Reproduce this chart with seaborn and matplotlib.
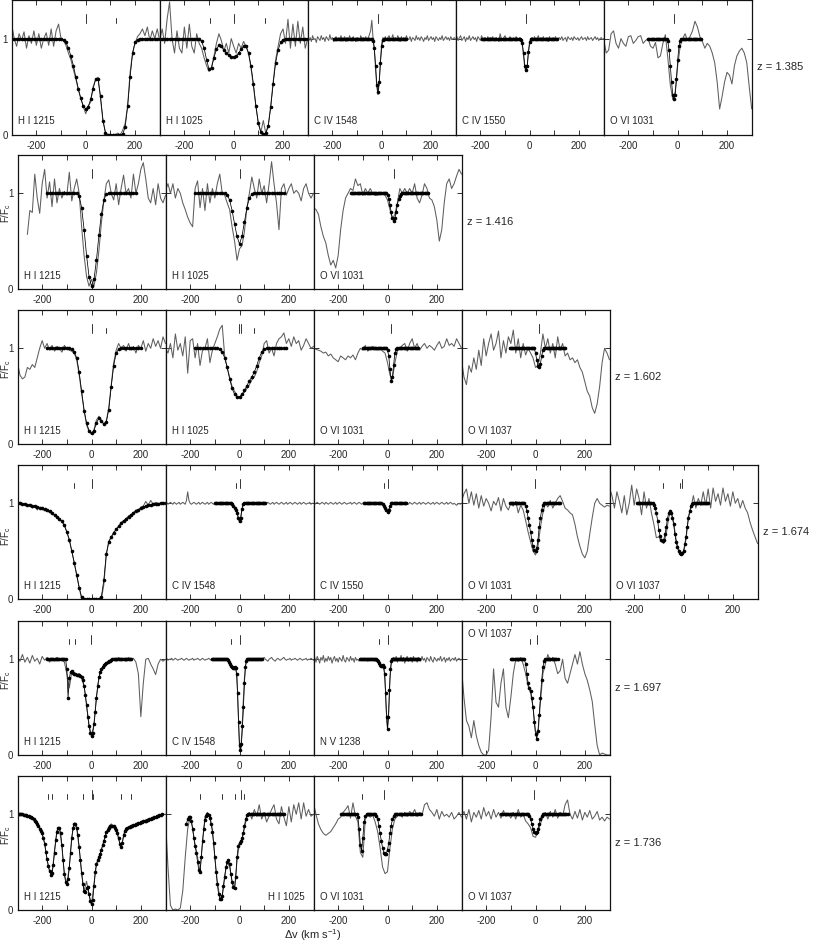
import numpy as np
import pandas as pd
import matplotlib
matplotlib.use("Agg")
import matplotlib.pyplot as plt
import seaborn as sns

sns.set_style("ticks")
plt.rcParams["font.family"] = ["Liberation Sans", "DejaVu Sans"]
plt.rcParams["mathtext.fontset"] = "custom"
plt.rcParams["mathtext.rm"] = "Liberation Sans"
plt.rcParams["mathtext.it"] = "Liberation Sans:italic"
plt.rcParams["mathtext.default"] = "regular"
plt.rcParams["axes.unicode_minus"] = False

# ---------------------------------------------------------------- data
redshifts = ["1.385", "1.416", "1.602", "1.674", "1.697", "1.736"]
row_ions = [
    ["H I 1215", "H I 1025", "C IV 1548", "C IV 1550", "O VI 1031"],
    ["H I 1215", "H I 1025", "O VI 1031"],
    ["H I 1215", "H I 1025", "O VI 1031", "O VI 1037"],
    ["H I 1215", "C IV 1548", "C IV 1550", "O VI 1031", "O VI 1037"],
    ["H I 1215", "C IV 1548", "N V 1238", "O VI 1037"],
    ["H I 1215", "H I 1025", "O VI 1031", "O VI 1037"],
]
xtick_major = [-200, 0, 200]
xtick_minor = [-100, 100]
ytick_vals = [0, 1]

# ---- z = 1.385
r1_hi1215_flux = [1.15,1.0,0.92,1.05,0.98,1.07,0.9,1.03,0.95,1.08,0.93,1.05,0.9,1.0,1.06,0.93,1.1,0.92,1.08,1.15,1.0,0.98,0.93,0.85,0.78,0.68,0.58,0.47,0.38,0.3,0.22,0.3,0.34,0.5,0.57,0.6,0.38,0.15,0.03,0.0,0.01,0.0,0.0,0.02,0.0,0.05,0.12,0.3,0.65,0.85,0.95,1.02,1.05,1.1,1.03,1.12,0.98,1.08,1.0,1.1,0.98]
r1_hi1215_fit = [1.0]*21 + [0.99,0.96,0.9,0.82,0.72,0.6,0.48,0.38,0.3,0.27,0.29,0.37,0.48,0.58,0.58,0.4,0.15,0.02,0.0,0.0,0.0,0.0,0.0,0.0,0.01,0.08,0.3,0.6,0.85,0.96,0.99] + [1.0]*9
r1_hi1025_flux = [0.98,1.1,0.95,1.2,1.38,1.0,0.85,1.08,0.9,0.85,1.12,0.9,1.15,0.92,0.85,1.05,0.95,0.9,0.8,0.72,0.66,0.7,0.82,0.95,1.05,0.98,0.87,0.95,0.85,1.0,0.92,0.85,0.95,0.9,0.97,0.92,0.85,0.7,0.5,0.3,0.12,0.03,0.15,0.02,0.1,0.3,0.55,0.78,0.92,1.05,1.1,0.95,1.2,0.9,1.15,0.92,1.18,0.95,1.12,0.9,1.0]
r1_hi1025_fit = [1.0]*17 + [0.97,0.9,0.78,0.68,0.7,0.8,0.89,0.93,0.92,0.88,0.85,0.83,0.81,0.81,0.82,0.85,0.89,0.92,0.92,0.85,0.72,0.53,0.3,0.12,0.03,0.01,0.02,0.09,0.29,0.53,0.75,0.88,0.96,0.99] + [1.0]*10
r1_civ1548_flux = [1.02,0.98,1.01,0.97,1.03,0.99,1.0,0.96,1.02,1.0,0.98,1.03,0.99,1.01,0.97,1.02,1.0,0.98,1.04,0.99,1.01,0.97,1.0,1.02,0.98,1.01,0.99,1.03,0.98,1.0,1.02,0.97,1.01,0.99,1.03,0.98,1.0,1.02,0.99,0.97,1.01,1.0,0.98,1.03,0.99,1.01,0.98,1.02,0.99,1.0,1.04,1.08,
                   1.19,1.0,0.9,0.7,0.5,0.42,0.55,0.78,0.95,1.01,
                   0.99,1.02,0.98,1.01,1.03,0.99,1.0,1.04,0.98,1.01,0.99,1.03,1.0,0.97,1.02,0.99,1.01,0.98,1.03,1.0,0.99,1.02,0.97,1.01,1.0,0.98,1.03,0.99,1.01,0.98,1.02,1.0,0.97,1.01,0.99,1.03,0.98,1.0,1.02,0.99,1.01,0.97,1.02,1.0,0.98,1.01,0.99,1.03,0.98,1.0,1.02,0.99,1.01,0.98,1.02,0.99,1.0,1.01,0.99]
r1_civ1548_fit = [1.0]*32 + [0.98,0.9,0.72,0.52,0.45,0.55,0.75,0.92,0.99] + [1.0]*19
r1_civ1550_flux = [0.99,1.02,0.98,1.01,1.03,0.98,1.0,1.02,0.97,1.01,0.99,1.03,0.98,1.0,1.02,0.99,1.01,0.97,1.02,1.0,0.98,1.03,0.99,1.0,1.01,0.98,1.02,0.99,1.01,1.0,1.02,0.98,1.0,1.01,0.99,0.97,1.05,1.0,0.98,1.01,1.03,0.99,1.0,0.98,1.02,1.0,0.99,1.01,0.98,1.02,1.0,0.99,1.01,
                   0.99,0.93,0.82,0.7,0.66,0.72,0.87,0.97,1.0,
                   1.01,0.99,1.02,0.98,1.0,1.03,0.99,1.01,0.98,1.02,1.0,0.99,1.01,0.97,1.02,1.0,0.98,1.01,0.99,1.02,0.98,1.0,1.01,0.99,1.02,0.98,1.0,1.01,0.97,1.02,1.0,0.99,1.01,0.98,1.02,1.0,0.99,1.01,0.98,1.0,1.02,0.99,1.0,1.01,0.98,1.02,0.99,1.0,1.01,0.98,1.0,1.02,0.99,1.01,0.98,1.0,1.01,0.99,1.0]
r1_civ1550_fit = [1.0]*32 + [0.99,0.95,0.85,0.72,0.67,0.72,0.86,0.96,1.0] + [1.0]*21
r1_ovi1031_flux = [1.0,0.85,0.88,1.05,1.08,0.95,0.9,1.0,0.95,0.92,1.02,1.03,0.95,0.98,1.02,1.03,0.95,0.98,1.0,0.92,0.9,0.96,0.8,0.82,0.95,1.04,0.8,0.52,0.37,0.45,0.72,0.92,1.0,1.05,0.98,1.02,1.08,1.18,1.12,1.02,0.97,0.9,0.95,0.92,0.85,0.75,0.55,0.27,0.4,0.55,0.65,0.62,0.53,0.72,0.82,0.87,0.9,0.85,0.75,0.5,0.27]
r1_ovi1031_fit = [1.0]*16 + [0.97,0.88,0.72,0.55,0.42,0.37,0.42,0.58,0.78,0.92,0.98,1.0] + [1.0]*16

# ---- z = 1.416
r2_hi1215_flux = [0.57,0.82,0.8,1.2,0.95,0.79,1.1,1.25,0.95,1.12,0.86,1.15,0.9,1.05,0.95,1.02,0.98,1.22,0.92,1.05,1.15,1.0,0.65,0.35,0.13,0.03,0.1,0.03,0.17,0.4,0.69,0.92,1.1,1.14,1.0,0.93,1.1,0.88,1.05,1.19,1.0,1.05,0.95,1.2,1.0,1.1,1.25,1.32,1.15,0.95,0.9,1.05,0.88,1.1,0.95,0.9,0.98]
r2_hi1215_fit = [1.0]*13 + [0.97,0.85,0.62,0.35,0.13,0.03,0.1,0.3,0.56,0.78,0.93,0.99] + [1.0]*12
r2_hi1025_flux = [1.03,1.1,1.0,1.1,0.95,1.05,1.0,0.9,0.83,0.75,0.69,0.65,1.05,1.13,0.85,1.05,0.82,1.1,0.9,1.05,0.95,1.1,1.2,1.0,0.98,0.9,0.83,0.65,0.5,0.3,0.42,0.45,0.6,0.85,1.0,1.17,1.05,0.95,1.15,1.0,1.08,0.9,1.1,1.33,1.1,0.9,0.62,1.05,1.1,0.98,1.05,1.1,1.0,1.03,1.0,0.92,1.05,1.1,1.0,0.95,1.0]
r2_hi1025_fit = [1.0]*13 + [0.98,0.93,0.82,0.68,0.55,0.47,0.55,0.7,0.85,0.95,0.99] + [1.0]*13
r2_ovi1031_flux = [0.85,0.83,0.78,0.65,0.55,0.48,0.35,0.25,0.3,0.22,0.35,0.62,0.82,0.95,1.0,1.05,1.03,1.15,1.08,1.1,0.98,1.05,1.0,1.05,1.0,0.98,0.98,1.0,1.0,0.98,0.93,0.83,0.73,0.78,0.9,1.05,1.0,1.05,1.0,1.05,1.0,1.1,0.95,0.9,0.98,1.1,1.05,0.95,0.93,0.86,0.72,0.5,0.62,0.9,1.1,1.15,1.05,1.1,1.18,1.25,1.2]
r2_ovi1031_fit = [1.0]*30 + [0.98,0.94,0.88,0.8,0.74,0.71,0.74,0.8,0.88,0.94,0.97,0.99] + [1.0]*22

# ---- z = 1.602
r3_hi1215_flux = [0.85,0.72,0.68,0.7,0.8,0.78,0.83,0.8,0.9,1.0,1.08,1.0,1.05,0.98,1.03,0.97,1.02,1.0,0.96,1.03,1.0,0.98,0.97,0.95,0.88,0.72,0.53,0.35,0.2,0.13,0.1,0.15,0.25,0.29,0.25,0.2,0.24,0.38,0.62,0.85,0.98,1.05,1.0,1.03,0.97,1.05,0.98,1.02,0.95,1.03,1.0,1.08,0.97,1.05,1.0,1.1,1.02,1.08,1.0,1.12,1.05]
r3_hi1215_fit = [1.0]*10 + [0.99,0.96,0.9,0.75,0.55,0.35,0.22,0.14,0.11,0.14,0.22,0.27,0.24,0.21,0.23,0.36,0.6,0.82,0.95,0.99] + [1.0]*9
r3_hi1025_flux = [1.0,0.95,1.05,0.9,1.15,0.98,1.05,0.92,1.12,0.74,1.08,1.1,0.9,1.05,0.82,0.98,1.0,1.1,0.85,0.98,1.05,1.12,1.2,1.24,0.92,0.8,0.7,0.6,0.55,0.5,0.48,0.52,0.54,0.58,0.62,0.67,0.7,0.76,0.85,0.92,1.05,1.08,0.95,1.0,0.92,1.05,1.1,1.12,1.16,1.05,1.1,1.02,1.12,1.05,1.08,0.98,1.03,1.1,1.05,1.0,1.02]
r3_hi1025_fit = [1.0]*10 + [0.99,0.96,0.9,0.8,0.68,0.58,0.52,0.49,0.49,0.52,0.56,0.61,0.66,0.7,0.75,0.82,0.9,0.96,0.99] + [1.0]*9
r3_ovi1031_flux = [1.0,0.99,0.98,0.97,0.95,0.96,0.92,0.94,0.9,0.88,0.86,0.92,0.9,0.88,0.92,0.9,0.93,0.88,0.95,1.0,0.98,1.03,0.97,1.0,1.02,0.99,0.98,1.0,0.97,0.95,0.85,0.72,0.68,0.85,0.97,1.0,1.03,1.05,0.97,1.05,1.1,1.0,1.05,0.98,1.02,1.05,1.0,1.03,1.01,0.98,1.03,1.07,1.0,1.02,1.1,1.03,1.05,1.02,1.1,1.05,1.0]
r3_ovi1031_fit = [1.0]*20 + [0.98,0.92,0.78,0.66,0.7,0.83,0.95,0.99] + [1.0]*18
r3_ovi1037_flux = [0.88,0.7,0.62,0.82,0.75,0.9,0.78,0.98,0.82,1.1,0.92,1.05,1.15,0.98,1.05,1.18,0.9,1.08,0.95,1.12,1.05,1.19,0.95,1.1,0.9,1.05,0.93,1.0,0.95,0.9,0.8,0.82,0.95,1.15,1.0,1.1,0.95,1.05,0.9,1.12,0.98,1.05,0.92,0.95,0.88,0.9,0.85,0.88,0.8,0.75,0.65,0.55,0.5,0.38,0.32,0.42,0.6,0.85,1.0,0.95,0.88]
r3_ovi1037_fit = [1.0]*21 + [0.95,0.88,0.82,0.8,0.84,0.92,0.98] + [1.0]*18

# ---- z = 1.674
r4_hi1215_flux = [1.0,1.01,0.98,1.0,0.97,0.99,0.95,0.97,0.93,0.96,0.94,0.92,0.93,0.9,0.9,0.87,0.86,0.83,0.81,0.77,0.7,0.62,0.5,0.38,0.25,0.12,0.0,0.0,0.0,0.0,0.0,0.0,0.0,0.0,0.0,0.15,0.46,0.6,0.64,0.7,0.72,0.76,0.8,0.82,0.83,0.87,0.88,0.9,0.93,0.92,0.96,0.97,1.02,0.98,1.03,0.99,1.01,1.0,1.0,1.01,1.0]
r4_hi1215_fit = [1.0,1.0,0.995,0.99,0.985,0.98,0.975,0.97,0.96,0.955,0.95,0.94,0.93,0.915,0.9,0.88,0.86,0.835,0.81,0.77,0.7,0.62,0.5,0.38,0.25,0.12,0.02,0.0,0.0,0.0,0.0,0.0,0.0,0.0,0.02,0.2,0.47,0.6,0.65,0.69,0.73,0.76,0.79,0.815,0.84,0.86,0.88,0.9,0.92,0.935,0.95,0.96,0.97,0.98,0.985,0.99,0.993,0.996,1.0,1.0,1.0]
r4_civ1548_flux = [1.0,1.01,0.99,1.0,1.01,1.0,0.99,1.01,1.0,0.99,1.0,1.01,0.99,1.0,1.01,1.0,0.99,
                   1.03,1.12,1.03,
                   1.0,0.99,1.0,1.01,1.0,0.99,1.0,1.01,0.99,1.0,1.01,1.0,0.99,1.0,1.01,0.99,1.0,1.01,1.0,0.99,1.0,1.01,1.0,0.99,1.0,1.01,0.99,1.0,1.0,1.01,0.99,1.0,1.01,1.0,
                   0.99,0.97,0.95,0.93,0.9,0.85,0.8,0.85,0.94,0.99,
                   1.0,1.01,1.0,0.99,1.0,1.01,0.99,1.0,1.01,1.0,0.99,1.0,1.01,1.0,0.99,1.01,1.0,0.99,1.0,1.01,1.0,0.99,1.0,1.01,0.99,1.0,1.01,1.0,0.99,1.0,1.01,1.0,0.99,1.0,1.01,0.99,1.0,1.01,1.0,0.99,1.0,1.01,1.0,0.99,1.0,1.01,0.99,1.0,1.01,1.0,0.99,1.0,1.0,1.01,0.99,1.0,1.0]
r4_civ1548_fit = [1.0]*14 + [0.99,0.97,0.95,0.93,0.9,0.85,0.81,0.85,0.94,0.99] + [1.0]*18
r4_civ1550_flux = [1.0,0.99,1.0,1.01,1.0,0.99,1.0,1.01,1.0,0.99,1.01,1.0,0.99,1.0,1.01,1.0,0.99,1.0,1.01,0.99,1.0,1.01,1.0,0.99,1.0,1.01,1.0,0.99,1.0,1.0,1.01,0.99,1.0,1.01,1.0,0.99,1.0,1.01,1.0,0.99,1.0,1.01,0.99,1.0,1.01,1.0,0.99,1.0,1.01,1.0,0.99,1.0,1.01,1.0,0.99,1.0,0.99,
                   0.98,0.95,0.93,0.91,0.93,0.97,1.0,
                   1.01,1.0,0.99,1.0,1.01,0.99,1.0,1.01,1.0,0.99,1.0,1.01,1.0,0.99,1.01,1.0,0.99,1.0,1.01,1.0,0.99,1.0,1.01,0.99,1.0,1.01,1.0,0.99,1.0,1.01,1.0,0.99,1.0,1.01,0.99,1.0,1.01,1.0,0.99,1.0,1.01,1.0,0.99,1.0,1.01,0.99,1.0,1.01,1.0,0.99,1.0,0.99,0.98,0.99,1.0,0.99,1.0]
r4_civ1550_fit = [1.0]*15 + [0.99,0.97,0.95,0.93,0.91,0.93,0.97,1.0] + [1.0]*12
r4_ovi1031_flux = [1.02,1.1,1.15,1.0,1.12,0.98,1.1,0.95,1.08,0.97,1.05,1.0,0.92,1.02,0.98,1.06,0.92,1.05,0.97,0.93,1.0,0.97,1.02,0.9,0.98,0.93,0.82,0.7,0.6,0.5,0.46,0.55,0.75,0.9,1.0,0.96,1.03,0.95,1.0,1.05,1.08,1.02,0.95,0.93,0.9,0.88,0.78,0.65,0.55,0.47,0.43,0.5,0.68,0.85,1.0,1.05,1.0,0.98,0.96,0.98,0.97]
r4_ovi1031_fit = [1.0]*13 + [0.97,0.92,0.85,0.77,0.7,0.62,0.55,0.51,0.5,0.53,0.62,0.75,0.85,0.93,0.98] + [1.0]*14
r4_ovi1037_flux = [1.16,1.08,0.95,1.12,1.02,0.9,1.08,0.88,1.0,1.19,0.98,1.15,1.05,0.88,1.12,0.95,1.05,0.9,0.78,0.64,0.65,0.6,0.58,0.68,0.85,0.92,0.8,0.62,0.52,0.47,0.48,0.62,0.85,0.95,1.08,0.95,1.05,0.98,1.12,0.98,1.15,0.95,1.16,1.02,1.1,0.98,1.16,1.02,1.1,0.97,1.12,1.0,1.05,0.95,1.03,0.95,0.9,0.8,0.72,0.65,0.58]
r4_ovi1037_fit = [1.0]*14 + [0.98,0.95,0.9,0.82,0.72,0.66,0.62,0.61,0.62,0.68,0.75,0.84,0.9,0.92,0.9,0.85,0.78,0.68,0.6,0.54,0.5,0.48,0.47,0.48,0.5,0.57,0.65,0.75,0.85,0.92,0.97,0.99] + [1.0]*13

# ---- z = 1.697
r5_hi1215_flux = [1.0,0.98,1.05,0.97,1.02,0.96,1.04,0.98,1.01,0.95,1.03,0.99,1.02,0.97,1.01,0.98,1.02,0.99,1.0,0.97,0.85,0.7,0.87,0.85,0.84,0.85,0.8,0.72,0.52,0.32,0.2,0.32,0.6,0.8,0.9,0.93,0.96,0.98,0.99,1.01,0.98,1.02,0.99,1.01,0.98,1.02,0.99,1.01,0.97,0.85,0.4,0.75,1.0,1.01,0.95,0.9,0.84,0.95,1.0,0.98,1.0]
r5_hi1215_fit = [1.0]*16 + [0.9,0.6,0.8,0.87,0.88,0.86,0.85,0.85,0.84,0.84,0.84,0.83,0.82,0.78,0.72,0.63,0.52,0.4,0.3,0.23,0.2,0.23,0.32,0.45,0.6,0.72,0.81,0.87,0.9,0.92,0.94,0.95,0.96,0.97,0.98,0.98,0.99] + [1.0]*16
r5_civ1548_flux = [1.0,1.01,0.99,1.0,1.0,1.01,0.99,1.0,1.01,1.0,0.99,1.0,1.0,1.01,1.0,0.99,1.0,1.01,1.0,0.99,1.0,1.0,1.01,0.99,1.0,1.0,1.01,1.0,0.99,1.0,1.01,1.0,0.99,1.0,1.0,1.01,1.0,0.99,1.0,1.01,1.0,0.99,1.0,1.0,1.01,1.0,0.99,1.0,1.0,0.99,1.0,
                   0.99,0.95,0.93,0.91,0.9,0.91,0.91,0.82,0.45,0.08,0.06,0.25,0.55,0.8,0.95,1.0,
                   1.0,1.01,0.99,1.0,1.0,1.01,0.99,1.0,1.01,1.0,0.99,1.0,1.01,1.02,1.0,0.99,0.98,1.0,1.01,1.02,1.0,0.99,0.98,1.0,1.01,1.0,0.99,1.0,1.01,1.02,1.0,0.99,1.0,1.0,1.01,0.99,1.0,1.0,1.01,1.0,0.99,1.0,1.01,1.0,0.99,1.0,1.0,1.01,0.99,1.0,1.0,1.01,1.0,0.99]
r5_civ1548_fit = [1.0]*16 + [0.99,0.97,0.95,0.93,0.92,0.91,0.91,0.92,0.91,0.85,0.65,0.35,0.1,0.05,0.12,0.3,0.5,0.75,0.92,0.98,1.0] + [1.0]*15
r5_nv1238_flux = [0.98,1.02,0.97,1.03,1.0,0.96,1.02,0.99,1.04,0.97,1.01,0.98,1.03,0.99,1.02,0.96,1.0,1.03,0.98,1.01,0.97,1.02,1.0,0.98,1.04,0.99,0.97,1.02,1.0,0.98,1.03,0.99,1.01,0.97,1.02,0.99,1.0,0.98,1.01,0.99,1.0,1.01,0.99,1.0,0.98,1.0,0.99,1.01,1.0,0.99,0.98,0.99,
                  0.97,0.95,0.92,0.93,0.94,0.92,0.8,0.48,0.28,0.45,0.8,0.95,1.0,
                  1.02,0.98,1.03,0.97,1.01,0.99,1.04,0.98,1.02,0.96,1.01,1.03,0.98,1.0,1.02,0.97,1.03,0.99,1.01,0.97,1.02,1.0,0.98,1.03,0.99,1.01,0.97,1.02,1.0,0.98,1.03,0.99,0.97,1.02,1.0,0.98,1.01,0.99,1.03,0.98,1.0,1.02,0.97,1.01,0.99,1.02,0.98,1.0,1.01,0.99,1.02,0.98,1.0,1.01,0.99,1.0]
r5_nv1238_fit = [1.0]*17 + [0.99,0.98,0.96,0.94,0.93,0.93,0.94,0.92,0.85,0.65,0.4,0.27,0.4,0.68,0.9,0.98,1.0] + [1.0]*27
r5_ovi1037_flux = [0.91,0.6,0.36,0.3,0.18,0.36,0.2,0.1,0.03,0.0,0.0,0.05,0.4,0.9,0.55,0.5,0.75,0.9,0.5,0.39,0.6,0.85,1.0,0.98,1.02,0.95,0.85,0.72,0.65,0.5,0.25,0.22,0.55,0.85,0.95,1.05,0.98,1.02,0.95,0.85,0.88,1.0,0.8,0.75,0.85,0.95,1.05,0.95,1.08,0.95,0.85,0.78,0.68,0.56,0.32,0.1,0.0,0.02,0.01,0.0,0.0]
r5_ovi1037_fit = [1.0]*12 + [0.95,0.85,0.75,0.7,0.67,0.6,0.5,0.35,0.22,0.17,0.25,0.42,0.6,0.78,0.92,0.98,1.0] + [1.0]*10

# ---- z = 1.736
r6_hi1215_flux = [1.0,1.01,0.99,1.0,0.98,0.97,0.97,0.93,0.9,0.86,0.79,0.7,0.52,0.4,0.37,0.62,0.83,0.85,0.66,0.37,0.27,0.45,0.76,0.91,0.85,0.65,0.38,0.2,0.3,0.16,0.06,0.27,0.47,0.56,0.62,0.72,0.8,0.87,0.9,0.87,0.85,0.74,0.65,0.77,0.86,0.85,0.88,0.87,0.9,0.89,0.92,0.91,0.94,0.93,0.96,0.95,0.97,0.98,0.99,1.0,1.0]
r6_hi1215_fit = [1.0,1.0,1.0,1.0,1.0,0.995,0.99,0.99,0.985,0.98,0.975,0.97,0.965,0.95,0.935,0.92,0.9,0.875,0.85,0.83,0.8,0.75,0.69,0.61,0.53,0.46,0.41,0.37,0.39,0.47,0.6,0.73,0.82,0.86,0.86,0.8,0.68,0.52,0.38,0.29,0.27,0.32,0.44,0.6,0.75,0.86,0.9,0.9,0.86,0.78,0.66,0.52,0.39,0.27,0.2,0.19,0.23,0.24,0.17,0.09,0.06,0.1,0.25,0.4,0.48,0.52,0.55,0.59,0.63,0.68,0.72,0.77,0.81,0.84,0.86,0.875,0.88,0.88,0.875,0.86,0.84,0.8,0.75,0.69,0.66,0.7,0.78,0.83,0.85,0.86,0.865,0.87,0.875,0.88,0.885,0.89,0.895,0.9,0.905,0.91,0.915,0.92,0.925,0.93,0.935,0.94,0.945,0.95,0.955,0.96,0.965,0.97,0.975,0.98,0.985,0.99,0.995,1.0]
r6_hi1025_flux = [0.95,0.45,0.05,0.0,0.01,0.0,0.02,0.2,0.55,0.85,0.98,0.85,0.68,0.55,0.4,0.7,0.97,1.02,0.97,0.85,0.55,0.3,0.13,0.14,0.35,0.5,0.45,0.3,0.22,0.52,0.7,0.74,0.85,0.98,1.02,0.95,1.05,0.98,1.1,0.95,1.02,0.92,0.98,1.05,1.1,0.95,0.9,1.08,0.97,0.88,1.08,0.92,1.1,1.0,1.12,0.95,1.12,0.98,1.05,0.98,1.0]
r6_hi1025_fit = [0.9,0.95,0.97,0.97,0.93,0.85,0.75,0.67,0.6,0.5,0.42,0.4,0.55,0.72,0.85,0.94,0.98,1.0,0.99,0.96,0.9,0.82,0.7,0.55,0.4,0.27,0.17,0.12,0.11,0.15,0.25,0.35,0.45,0.5,0.52,0.48,0.38,0.29,0.24,0.23,0.35,0.55,0.67,0.7,0.72,0.75,0.8,0.88,0.95,0.99] + [1.0]*30
r6_ovi1031_flux = [1.12,1.0,0.9,0.84,0.8,0.78,0.8,0.82,0.86,0.9,0.95,0.97,1.02,1.05,1.09,0.96,1.12,0.98,0.92,0.6,0.55,0.95,0.99,0.97,0.99,0.92,0.82,0.65,0.45,0.38,0.4,0.65,0.85,0.95,0.98,1.0,0.97,1.02,0.98,1.03,1.0,1.05,0.98,1.02,0.99,1.1,1.12,1.05,1.02,0.98,1.05,0.95,1.03,0.98,1.0,0.97,1.02,0.95,0.98,1.02,0.97]
r6_ovi1031_fit = [1.0]*14 + [0.97,0.85,0.68,0.62,0.75,0.92,0.98] + [1.0]*8 + [0.98,0.95,0.88,0.8,0.72,0.65,0.6,0.58,0.59,0.63,0.7,0.8,0.88,0.95,0.98,1.0] + [1.0]*21
r6_ovi1037_flux = [0.97,1.03,0.95,1.05,0.92,1.02,0.97,1.04,0.95,1.07,0.98,1.03,0.95,1.05,0.97,1.02,0.96,1.04,0.98,1.0,0.96,1.02,0.95,1.05,0.97,1.0,0.93,0.9,0.86,0.77,0.76,0.82,0.9,0.97,1.02,0.95,1.03,0.97,1.05,0.96,1.02,0.98,1.1,1.15,1.0,0.95,1.03,0.96,1.05,0.94,1.02,0.97,1.04,0.95,0.98,1.03,0.94,0.97,0.93,0.97,0.95]
r6_ovi1037_fit = [1.0]*23 + [0.98,0.95,0.9,0.85,0.81,0.8,0.81,0.85,0.9,0.95,0.98,1.0] + [1.0]*20

# velocity grids: (start, step) for spectrum and model of each panel
spec_grid = [
    [(-300, 10), (-300, 10), (-300, 5), (-300, 5), (-300, 10)],
    [(-260, 10), (-300, 10), (-300, 10)],
    [(-300, 10), (-300, 10), (-300, 10), (-300, 10)],
    [(-300, 10), (-300, 5), (-300, 5), (-300, 10), (-300, 10)],
    [(-300, 10), (-300, 5), (-300, 5), (-300, 10)],
    [(-300, 10), (-300, 10), (-300, 10), (-300, 10)],
]
fit_grid = [
    [(-300, 10), (-300, 10), (-195, 5), (-195, 5), (-120, 5)],
    [(-180, 10), (-180, 10), (-150, 5)],
    [(-180, 10), (-180, 10), (-100, 5), (-105, 5)],
    [(-300, 10), (-100, 5), (-95, 5), (-105, 5), (-190, 5)],
    [(-180, 5), (-112, 4), (-112, 4), (-100, 5)],
    [(-300, 5), (-215, 5), (-190, 5), (-140, 5)],
]
spectra = [
    [r1_hi1215_flux, r1_hi1025_flux, r1_civ1548_flux, r1_civ1550_flux, r1_ovi1031_flux],
    [r2_hi1215_flux, r2_hi1025_flux, r2_ovi1031_flux],
    [r3_hi1215_flux, r3_hi1025_flux, r3_ovi1031_flux, r3_ovi1037_flux],
    [r4_hi1215_flux, r4_civ1548_flux, r4_civ1550_flux, r4_ovi1031_flux, r4_ovi1037_flux],
    [r5_hi1215_flux, r5_civ1548_flux, r5_nv1238_flux, r5_ovi1037_flux],
    [r6_hi1215_flux, r6_hi1025_flux, r6_ovi1031_flux, r6_ovi1037_flux],
]
fits = [
    [r1_hi1215_fit, r1_hi1025_fit, r1_civ1548_fit, r1_civ1550_fit, r1_ovi1031_fit],
    [r2_hi1215_fit, r2_hi1025_fit, r2_ovi1031_fit],
    [r3_hi1215_fit, r3_hi1025_fit, r3_ovi1031_fit, r3_ovi1037_fit],
    [r4_hi1215_fit, r4_civ1548_fit, r4_civ1550_fit, r4_ovi1031_fit, r4_ovi1037_fit],
    [r5_hi1215_fit, r5_civ1548_fit, r5_nv1238_fit, r5_ovi1037_fit],
    [r6_hi1215_fit, r6_hi1025_fit, r6_ovi1031_fit, r6_ovi1037_fit],
]
# component velocities (v, main component?)
components = [
    [[(0, 1), (122, 0)], [(-97, 0), (0, 1), (125, 0)], [(-15, 1)], [(-15, 1)], [(-15, 1)]],
    [[(0, 1)], [(0, 1)], [(25, 1)]],
    [[(0, 1), (57, 0)], [(-3, 1), (5, 1), (57, 0)], [(16, 1)], [(16, 1)]],
    [[(-72, 0), (0, 1)], [(-14, 0), (0, 1)], [(-14, 0), (0, 1)], [(-3, 1)], [(-85, 0), (-16, 0), (-5, 1)]],
    [[(-92, 0), (-67, 0), (-3, 1)], [(-33, 0), (3, 1)], [(-33, 0), (3, 1)], [(-22, 0), (5, 1)]],
    [[(-175, 0), (-160, 0), (-100, 0), (-35, 0), (0, 1), (5, 0), (120, 0), (160, 0)],
     [(-162, 0), (-72, 0), (-17, 0), (5, 1), (20, 0)], [(-105, 0), (-13, 1)], [(-8, 1)]],
]
label_place = [
    ["bl"] * 5, ["bl"] * 3, ["bl"] * 4, ["bl"] * 5,
    ["bl", "bl", "bl", "tl"], ["bl", "br", "bl", "bl"],
]

# ---------------------------------------------------------------- layout
W, H = 813, 944
fig = plt.figure(figsize=(W / 100, H / 100), dpi=100)
row_top = [0, 155, 310, 465, 621, 776]
row_h = [135, 134, 134, 134, 134, 134]
row_left = [11.7, 17.5, 17.5, 17.5, 17.5, 17.5]
ylab_y = [0.57, 0.57, 0.56, 0.47, 0.56, 0.56]
pw = 148.0
FS = 7
spec_col = "#5e5e5e"
frame_col = "#111111"

for r in range(6):
    n = len(row_ions[r])
    for p in range(n):
        left = row_left[r] + p * pw
        ax = fig.add_axes([left / W, 1 - (row_top[r] + row_h[r]) / H, pw / W, row_h[r] / H])
        v0, dv = spec_grid[r][p]
        f = np.array(spectra[r][p], dtype=float)
        dfs = pd.DataFrame({"v": v0 + dv * np.arange(len(f)), "f": f})
        sns.lineplot(data=dfs, x="v", y="f", ax=ax, color=spec_col, linewidth=0.75,
                     estimator=None, sort=False, legend=False)
        fv0, fdv = fit_grid[r][p]
        m = np.array(fits[r][p], dtype=float)
        dfm = pd.DataFrame({"v": fv0 + fdv * np.arange(len(m)), "f": m})
        sns.lineplot(data=dfm, x="v", y="f", ax=ax, color="black", linewidth=0.55,
                     marker="o", markersize=2.6, markeredgewidth=0,
                     estimator=None, sort=False, legend=False)
        for vc, main in components[r][p]:
            ax.plot([vc, vc], [1.16, 1.25 if main else 1.21], color="#333333", lw=0.7)
        ax.set_xlim(-300, 300)
        ax.set_ylim(0, 1.4)
        ax.set_xticks(xtick_major)
        ax.set_xticks(xtick_minor, minor=True)
        ax.set_yticks(ytick_vals)
        ax.set_xlabel("")
        ax.set_ylabel("")
        ax.tick_params(which="both", direction="in", top=True, right=True,
                       length=3.5, width=0.6, color=frame_col, labelsize=FS, pad=4)
        ax.tick_params(axis="y", pad=3)
        if p > 0:
            ax.set_yticklabels([])
        for s in ax.spines.values():
            s.set_linewidth(0.9)
            s.set_color(frame_col)
        lp = label_place[r][p]
        if lp == "bl":
            ax.text(0.045, 0.1, row_ions[r][p], transform=ax.transAxes, fontsize=FS, ha="left", va="center")
        elif lp == "br":
            ax.text(0.94, 0.1, row_ions[r][p], transform=ax.transAxes, fontsize=FS, ha="right", va="center")
        else:
            ax.text(0.045, 0.9, row_ions[r][p], transform=ax.transAxes, fontsize=FS, ha="left", va="center")
        if p == 0 and r > 0:
            ax.text(-0.075, ylab_y[r], r"F/F$_\mathrm{c}$", transform=ax.transAxes, fontsize=FS,
                    rotation=90, ha="center", va="center")
        if p == n - 1:
            ax.text(1.035, 0.5, "z = " + redshifts[r], transform=ax.transAxes, fontsize=8,
                    ha="left", va="center")

fig.text(313 / W, 1 - 935 / H, r"$\Delta$v (km s$^{-1}$)", ha="center", va="center", fontsize=8)
fig.savefig("out.png", dpi=100)
